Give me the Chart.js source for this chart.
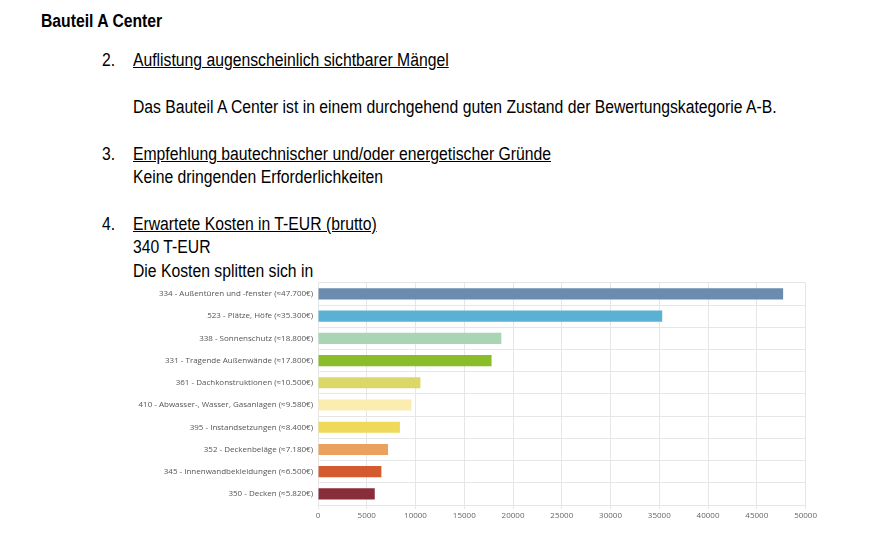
<!DOCTYPE html>
<html>
<head>
<meta charset="utf-8">
<script src="https://cdn.jsdelivr.net/npm/chart.js@4"></script>
<style>
  body { margin:0; background:#fff; width:874px; height:538px; overflow:hidden; position:relative;
         font-family:"Liberation Sans Narrow","Arial Narrow","Liberation Sans",sans-serif; color:#000; }
  .t { position:absolute; font-size:18px; white-space:nowrap; line-height:20px;
       transform:scaleX(0.874); transform-origin:0 0; }
  .u { text-decoration:underline; }
  #wrap { position:absolute; left:130px; top:273px; width:689px; height:252px; }
</style>
</head>
<body>
<div class="t" style="left:41px;top:11px;font-weight:bold;">Bauteil A Center</div>
<div class="t" style="left:102px;top:50px;">2.</div>
<div class="t u" style="left:133px;top:50px;">Auflistung augenscheinlich sichtbarer Mängel</div>
<div class="t" style="left:133px;top:97px;">Das Bauteil A Center ist in einem durchgehend guten Zustand der Bewertungskategorie A-B.</div>
<div class="t" style="left:102px;top:144px;">3.</div>
<div class="t u" style="left:133px;top:144px;">Empfehlung bautechnischer und/oder energetischer Gründe</div>
<div class="t" style="left:133px;top:167px;">Keine dringenden Erforderlichkeiten</div>
<div class="t" style="left:102px;top:214px;">4.</div>
<div class="t u" style="left:133px;top:214px;">Erwartete Kosten in T-EUR (brutto)</div>
<div class="t" style="left:133px;top:237px;">340 T-EUR</div>
<div class="t" style="left:133px;top:261px;">Die Kosten splitten sich in</div>
<div id="wrap"><canvas id="myChart"></canvas></div>
<script>
var categories = [
  '334 - Außentüren und -fenster (≈47.700€)',
  '523 - Plätze, Höfe (≈35.300€)',
  '338 - Sonnenschutz (≈18.800€)',
  '331 - Tragende Außenwände (≈17.800€)',
  '361 - Dachkonstruktionen (≈10.500€)',
  '410 - Abwasser-, Wasser, Gasanlagen (≈9.580€)',
  '395 - Instandsetzungen (≈8.400€)',
  '352 - Deckenbeläge (≈7.180€)',
  '345 - Innenwandbekleidungen (≈6.500€)',
  '350 - Decken (≈5.820€)'
];
var costs = [47700, 35300, 18800, 17800, 10500, 9580, 8400, 7180, 6500, 5820];
var barColors = ['#6b8cae', '#5bb1d3', '#a9d5b4', '#8abd2a', '#dcd867',
                 '#fbecb0', '#efd95a', '#e9a15d', '#d45a2f', '#8a2d3a'];
var xTicks = [0, 5000, 10000, 15000, 20000, 25000, 30000, 35000, 40000, 45000, 50000];

var ctx = document.getElementById('myChart');
var myChart = new Chart(ctx, {
  type: 'bar',
  data: {
    labels: categories,
    datasets: [{
      data: costs,
      backgroundColor: barColors,
      barPercentage: 0.5,
      categoryPercentage: 1
    }]
  },
  options: {
    indexAxis: 'y',
    responsive: true,
    maintainAspectRatio: false,
    animation: false,
    layout: { padding: { top: 3, right: 0, left: 0, bottom: 0 } },
    plugins: { legend: { display: false }, tooltip: { enabled: false } },
    scales: {
      x: {
        min: 0, max: 50000,
        afterBuildTicks: function(scale) {
          scale.ticks = xTicks.map(function(v) { return { value: v }; });
        },
        afterFit: function(scale) { scale.height = 20; },
        grid: { color: '#e6e6e6', tickLength: 4 },
        border: { color: '#e6e6e6' },
        ticks: {
          color: '#666', font: { family: 'Open Sans', size: 8 }, maxRotation: 0, padding: 2,
          callback: function(v) { return String(v); }
        }
      },
      y: {
        afterFit: function(scale) { scale.width = 188; },
        grid: { color: '#e6e6e6', drawTicks: false },
        border: { color: '#e6e6e6' },
        ticks: { color: '#555', font: { family: 'Open Sans', size: 8 }, padding: 5 }
      }
    }
  }
});
</script>
</body>
</html>
